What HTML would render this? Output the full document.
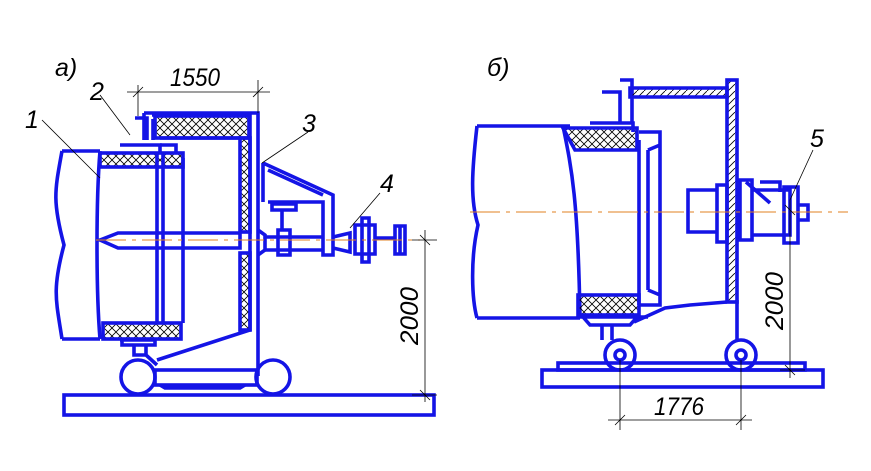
<!DOCTYPE html>
<html><head><meta charset="utf-8"><style>
html,body{margin:0;padding:0;background:#fff;}
svg{display:block}
text{font-family:"Liberation Sans",sans-serif;font-style:italic;fill:#000}
</style></head><body>
<svg width="871" height="471" viewBox="0 0 871 471" xmlns="http://www.w3.org/2000/svg">
<defs>
<pattern id="x" width="8" height="8" patternUnits="userSpaceOnUse">
<path d="M0 0L8 8M8 0L0 8" stroke="#000" stroke-width="0.8"/>
</pattern>
<pattern id="h" width="7" height="7" patternUnits="userSpaceOnUse">
<path d="M0 7L7 0" stroke="#000" stroke-width="0.8"/>
</pattern>
</defs>
<g fill="none" stroke="#1414e6" stroke-width="3.6">
<!-- ===== A ===== -->
<rect x="64" y="395" width="370" height="20"/>
<circle cx="138" cy="377" r="17"/>
<circle cx="273" cy="377" r="17"/>
<rect x="155" y="370" width="102" height="15"/>
<path d="M160 385L165 388H240L245 385"/>
<path d="M62 151H100 M62 339H100 M62 151C55 190 52 200 64 245C52 290 56 300 62 339 M100 151C96 200 96 290 100 339"/>
<rect x="100" y="153" width="83" height="14" fill="url(#x)"/>
<rect x="103" y="323" width="78" height="16" fill="url(#x)"/>
<path d="M157 153V323 M163 153V323 M183 158V323 M160 145H176 V153"/>
<path d="M120 340H156 M122 340V345H155V340 M134 345V355H146V345 M146 355L157 365"/>
<path d="M144 113H258V376 M144 113V140 M135 118H147V140 M120 145H160V153 M153 119V140"/>
<path d="M152 115H250V330L157 360"/>
<rect x="155" y="116" width="94" height="22" fill="url(#x)"/>
<rect x="240" y="138" width="10" height="94" fill="url(#x)"/>
<rect x="240" y="253" width="10" height="77" fill="url(#x)"/>
<path d="M160 138H240"/>
<path d="M100 240L118 233H240V248H118Z"/>
<path d="M258 230L265 235V250L258 255"/>
<path d="M263 163L333 195V255H323V202H268 M263 163V202 M268 170L323 195"/>
<path d="M272 204H296V210H272Z M282 210V230 M278 230H290V255H278Z"/>
<path d="M265 237H323 M265 250H323 M333 237L350 233V252L333 248"/>
<path d="M355 225H375V254H355Z M362 218H369V262H362Z M375 238H395 M395 226H405V254H395Z M400 226V254"/>
<!-- ===== B ===== -->
<rect x="542" y="370" width="281" height="17"/>
<rect x="558" y="363" width="247" height="7"/>
<circle cx="620" cy="355" r="15"/><circle cx="620" cy="355" r="5"/>
<circle cx="741" cy="355" r="15"/><circle cx="741" cy="355" r="5"/>
<path d="M477 126H570 M477 318H580 M477 126C472 170 470 200 478 225C470 260 472 300 477 318 M563 126C572 170 578 200 580 318"/>
<path d="M563 128H637 V150H575 Z" fill="url(#x)"/>
<rect x="578" y="295" width="61" height="20" fill="url(#x)"/>
<path d="M578 317H648 M583 317L590 325H630L637 317 M602 325V340 M612 325V340"/>
<path d="M639 140V305 M648 150V290 M639 132H660V305H639 M648 150L660 145 M648 290L660 295"/>
<path d="M590 123H633 V132 M602 92H620V123 M620 80H632V123"/>
<path d="M630 88H727V97H630Z" fill="url(#h)"/>
<rect x="727" y="80" width="10" height="222" fill="url(#h)"/>
<path d="M737 300V342 M727 302L690 305L665 308L634 322"/>
<path d="M688 190H717V232H688Z M717 185H727V242H717Z M740 180H752V240H740Z M752 190H790V235H752 M760 182H780V192 M784 187H798V243H784Z M798 205H808V220H798Z"/>
<path d="M746 182L770 203"/>
</g>
<g stroke="#e08020" stroke-width="1" stroke-dasharray="30 6 4 6">
<line x1="96" y1="240" x2="420" y2="240"/>
<line x1="470" y1="212" x2="848" y2="212"/>
</g>
<g stroke="#000" stroke-width="0.8" fill="none">
<path d="M127 92H270 M138 85V116 M258 80V113 M133 97L143 87 M253 97L263 87"/>
<path d="M425 230V402 M412 240H437 M412 395H437 M420 235L430 245 M420 390L430 400"/>
<path d="M790 200V378 M780 370H805 M785 365L795 375 M785 205L795 215"/>
<path d="M608 420H752 M620 360V430 M741 360V430 M615 425L625 415 M736 425L746 415"/>
<path d="M42 120L100 178 M100 95L130 135 M308 132L262 163 M380 193L350 228 M813 150L790 200"/>
</g>
<g font-size="25">
<text x="55" y="76">а)</text>
<text x="487" y="76">б)</text>
<text x="25" y="128">1</text>
<text x="90" y="100">2</text>
<text x="302" y="132">3</text>
<text x="380" y="192">4</text>
<text x="810" y="147">5</text>
<text x="170" y="86" textLength="50" lengthAdjust="spacingAndGlyphs">1550</text>
<text x="654" y="415" textLength="50" lengthAdjust="spacingAndGlyphs">1776</text>
<text transform="translate(418,345) rotate(-90)" textLength="58" lengthAdjust="spacingAndGlyphs">2000</text>
<text transform="translate(783,330) rotate(-90)" textLength="58" lengthAdjust="spacingAndGlyphs">2000</text>
</g>
</svg>
</body></html>
